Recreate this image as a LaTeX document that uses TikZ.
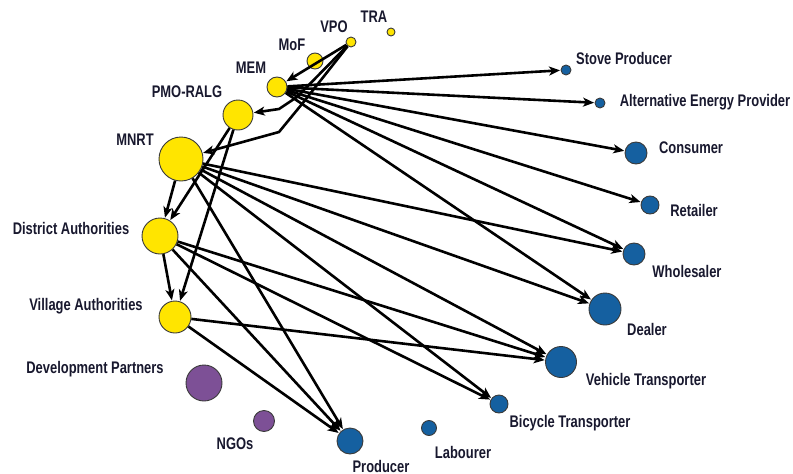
\documentclass[tikz,border=0pt]{standalone}
\usepackage{fontspec}
\setmainfont{Liberation Sans}[FakeStretch=0.77]
\usetikzlibrary{arrows.meta}
\definecolor{nyellow}{HTML}{FFE500}
\definecolor{nblue}{HTML}{1560A0}
\definecolor{npurple}{HTML}{7D5096}
\definecolor{ntext}{HTML}{18182E}
\definecolor{nedge}{HTML}{3A3A3A}
\tikzset{
  vtx/.style={circle, draw=nedge, line width=0.9pt, inner sep=0pt, minimum size=#1},
  yv/.style={vtx=#1, fill=nyellow},
  bv/.style={vtx=#1, fill=nblue},
  pv/.style={vtx=#1, fill=npurple},
  lbl/.style={font=\fontsize{16.8}{18}\selectfont\bfseries, text=ntext, inner sep=0pt, anchor=center},
  arr/.style={line width=2.6pt, black, -{Stealth[length=11pt,width=9pt,inset=3pt]}, shorten >=0.5pt},
}
\begin{document}
\begin{tikzpicture}[x=1pt,y=-1pt]
\useasboundingbox (0,0) rectangle (793,474);
% nodes
\node[yv=8pt]  (tra)  at (391,32) {};
\node[yv=10pt] (vpo)  at (351,42) {};
\node[yv=16pt] (mof)  at (315,61) {};
\node[yv=20pt] (mem)  at (277,87) {};
\node[yv=30pt] (pmo)  at (238,115) {};
\node[yv=44pt] (mnrt) at (181,159) {};
\node[yv=36pt] (dist) at (160,236) {};
\node[yv=32pt] (vill) at (175,317) {};
\node[pv=36pt] (dev)  at (204,383) {};
\node[pv=21pt] (ngo)  at (264,421) {};
\node[bv=26pt] (prod) at (350,441) {};
\node[bv=15pt] (lab)  at (429,428) {};
\node[bv=18pt] (bic)  at (499,404) {};
\node[bv=31pt] (veh)  at (561,362) {};
\node[bv=32pt] (deal) at (605,309) {};
\node[bv=22pt] (whol) at (634,254) {};
\node[bv=18pt] (ret)  at (650,205) {};
\node[bv=22pt] (cons) at (636,153) {};
\node[bv=10pt] (alt)  at (600,103) {};
\node[bv=10pt] (stove) at (566,70) {};
% labels
\node[lbl] (ltra)  at (374,17) {TRA};
\node[lbl] (lvpo)  at (334,27) {VPO};
\node[lbl] (lmof)  at (292,45) {MoF};
\node[lbl] (lmem)  at (251,68) {MEM};
\node[lbl] (lpmo)  at (187,92) {PMO-RALG};
\node[lbl] (lmnrt) at (135,140) {MNRT};
\node[lbl] (ldist) at (71,228) {District Authorities};
\node[lbl] (lvill) at (86,306) {Village Authorities};
\node[lbl] (ldev)  at (95,369) {Development Partners};
\node[lbl] (lngo)  at (235,444) {NGOs};
\node[lbl] (lprod) at (381,466) {Producer};
\node[lbl] (llab)  at (463,452) {Labourer};
\node[lbl] (lbic)  at (570,423) {Bicycle Transporter};
\node[lbl] (lveh)  at (646,381) {Vehicle Transporter};
\node[lbl] (ldeal) at (647,329) {Dealer};
\node[lbl] (lwhol) at (687,271) {Wholesaler};
\node[lbl] (lret)  at (694,210) {Retailer};
\node[lbl] (lcons) at (691,148) {Consumer};
\node[lbl] (lalt)  at (705,102) {Alternative Energy Provider};
\node[lbl] (lstove) at (624,58) {Stove Producer};
% bend points
\coordinate (b1) at (297,97);
\coordinate (b2) at (279,109);
\coordinate (b3) at (302,104);
\coordinate (b4) at (279,132);
% edges from VPO
\draw[arr] (vpo) -- (mem);
\draw[arr] (vpo) -- (b1) -- (b2) -- (pmo);
\draw[arr] (vpo) -- (b3) -- (b4) -- (mnrt);
% edges from MEM
\draw[arr] (mem) -- (stove);
\draw[arr] (mem) -- (alt);
\draw[arr] (mem) -- (cons);
\draw[arr] (mem) -- (ret);
\draw[arr] (mem) -- (whol);
\draw[arr] (mem) -- (deal);
% edges from PMO-RALG
\draw[arr] (pmo) -- (dist);
\draw[arr] (pmo) -- (vill);
% edges from MNRT
\draw[arr] (mnrt) -- (dist);
\draw[arr] (mnrt) -- (whol);
\draw[arr] (mnrt) -- (deal);
\draw[arr] (mnrt) -- (veh);
\draw[arr] (mnrt) -- (bic);
\draw[arr] (mnrt) -- (prod);
% edges from District Authorities
\draw[arr] (dist) -- (vill);
\draw[arr] (dist) -- (veh);
\draw[arr] (dist) -- (bic);
\draw[arr] (dist) -- (prod);
% edges from Village Authorities
\draw[arr] (vill) -- (veh);
\draw[arr] (vill) -- (prod);
\end{tikzpicture}
\end{document}
